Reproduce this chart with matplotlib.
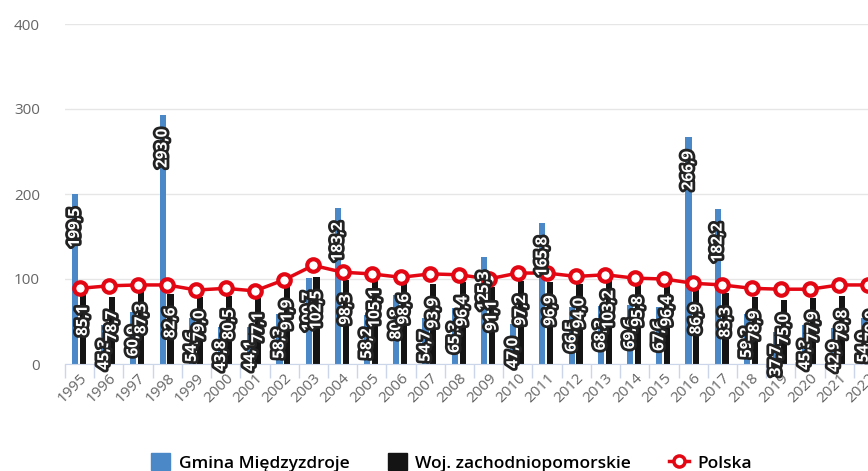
import numpy as np
import matplotlib.pyplot as plt
import matplotlib.patheffects as pe
from matplotlib.lines import Line2D
from matplotlib.patches import Patch

plt.rcParams['font.family'] = ['Open Sans', 'DejaVu Sans']

# Dane
lata = [str(r) for r in range(1995, 2023)]
gmina = [199.5, 45.3, 60.9, 293.0, 54.6, 43.8, 44.1, 58.3, 100.7, 183.2,
         58.2, 80.8, 54.7, 65.3, 125.3, 47.0, 165.8, 66.5, 68.3, 69.6,
         67.6, 266.9, 182.2, 59.2, 37.7, 45.3, 42.9, 54.0]
woj = [85.1, 78.7, 87.3, 82.6, 79.0, 80.5, 77.1, 91.9, 102.5, 98.3,
       105.1, 98.6, 93.9, 96.4, 91.1, 97.2, 96.9, 94.0, 103.2, 95.8,
       96.4, 86.9, 83.3, 78.9, 75.0, 77.9, 79.8, 79.0]
polska = [89, 92, 93, 93, 87, 89, 86, 99, 116, 108,
          106, 102, 106, 105, 100, 107, 107, 103, 105, 101,
          100, 95, 93, 89, 88, 88, 93, 93]

x = np.arange(len(lata))

fig = plt.figure(figsize=(8.68, 4.71), dpi=100)
ax = fig.add_axes([65 / 868, 1 - 364 / 471, 818 / 868, 340 / 471])

niebieski = '#4a88c7'
czarny = '#141414'
czerwony = '#e30613'

w = 0.21
ax.bar(x - 0.16, gmina, width=w, color=niebieski, zorder=2)
ax.bar(x + 0.11, woj, width=w, color=czarny, zorder=2)
ax.plot(x, polska, color=czerwony, lw=2.5, marker='o', markersize=9,
        markerfacecolor='white', markeredgecolor=czerwony, markeredgewidth=3,
        zorder=4)

efekt = [pe.withStroke(linewidth=4, foreground='#222222')]
for xs, vals in [(x - 0.16, gmina), (x + 0.11, woj)]:
    for xi, v in zip(xs, vals):
        txt = f'{v:.1f}'.replace('.', ',')
        ax.annotate(txt, (xi, v), xytext=(0, -10), textcoords='offset points',
                    rotation=90, ha='center', va='top', color='white',
                    fontsize=11, fontweight='bold', path_effects=efekt,
                    zorder=5, annotation_clip=False)

ax.set_ylim(0, 400)
ax.set_xlim(-0.5, len(lata) - 0.5)
ax.set_yticks([0, 100, 200, 300, 400])
ax.yaxis.grid(True, color='#e6e6e6', lw=1)
ax.set_axisbelow(True)
ax.tick_params(axis='y', length=0, pad=18, labelsize=11, labelcolor='#666666')

ax.set_xticks(x)
ax.set_xticklabels(lata, rotation=45, ha='right', rotation_mode='anchor',
                   fontsize=11, color='#666666')
ax.tick_params(axis='x', length=0, pad=5)
ax.set_xticks(np.arange(-0.5, len(lata), 1), minor=True)
ax.tick_params(axis='x', which='minor', length=10, color='#ccd6eb', width=1)

for s in ['top', 'right', 'left']:
    ax.spines[s].set_visible(False)
ax.spines['bottom'].set_color('#ccd6eb')

uchwyty = [Patch(color=niebieski), Patch(color=czarny),
           Line2D([], [], color=czerwony, lw=2.5, marker='o', markersize=8,
                  markerfacecolor='white', markeredgecolor=czerwony,
                  markeredgewidth=2.5)]
fig.legend(uchwyty, ['Gmina Międzyzdroje', 'Woj. zachodniopomorskie', 'Polska'],
           loc='center', bbox_to_anchor=(0.52, 0.018), ncol=3, frameon=False,
           handlelength=1.1, handleheight=1.1, columnspacing=2.2,
           handletextpad=0.5, prop={'weight': 'semibold', 'size': 12.5})

plt.savefig('out.png', dpi=100)
